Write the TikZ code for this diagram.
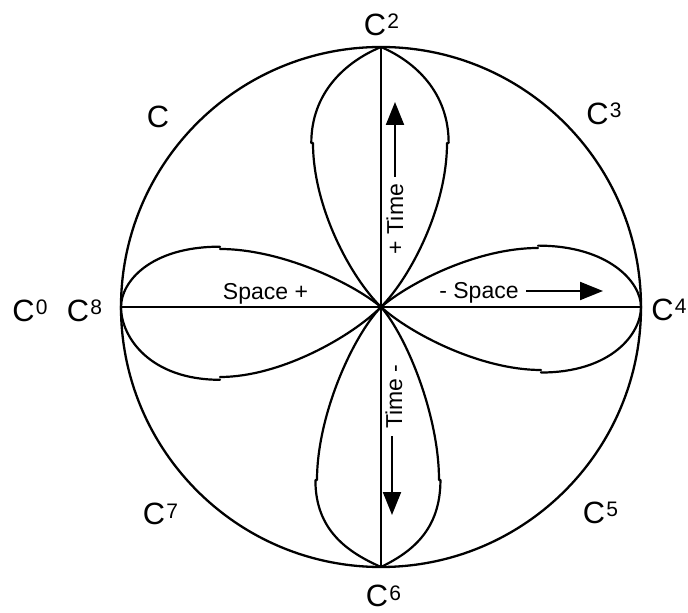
\documentclass[tikz,border=0pt]{standalone}
\usepackage{fontspec}
\setmainfont{Liberation Sans}
\usetikzlibrary{arrows.meta}
\newcommand{\cpow}[1]{C\kern0.6pt\raisebox{3.3pt}{\fontsize{10.5}{12}\selectfont #1}}
\tikzset{
  ring/.style={line width=1.15pt},
  axisline/.style={line width=1.05pt},
  lobe/.style={line width=1.1pt, line cap=round},
  clabel/.style={inner sep=0pt, font=\fontsize{15.4}{18}\selectfont},
  dirlabel/.style={inner sep=3.5pt, anchor=base, font=\fontsize{11.5}{13}\selectfont},
  dirarrow/.style={line width=1pt, -{Triangle[length=11.5pt,width=9pt]}}
}

\begin{document}
\begin{tikzpicture}[x=0.5pt, y=0.5pt]
\useasboundingbox (-381,-306) rectangle (307,307);

% circle and axes
\draw[ring] (0,0) circle[radius=130pt];
\coordinate (top) at (0,260);
\coordinate (bottom) at (0,-260);
\coordinate (left) at (-260,0);
\coordinate (right) at (260,0);
\draw[axisline] (top) -- (bottom);
\draw[axisline] (left) -- (right);

% vertical lobes
\foreach \r/\w/\d in {0/66/164, 0/-68/164, 180/64/173, 180/-58/173}
  \draw[lobe, rotate=\r] (0,0) .. controls ({0.45*\w},30) and (\w,{\d-64}) .. (\w,\d)
    ({1.025*\w},\d) .. controls ({1.025*\w},{\d+50}) and ({0.53*\w},245) .. (0,260);

% horizontal lobes
\foreach \r/\w/\d in {90/58/161, 90/-70/161, -90/63/160, -90/-59/157}
  \draw[lobe, rotate=\r] (0,0) .. controls ({0.43*\w},30) and (\w,{\d-60}) .. (\w,\d)
    ({1.04*\w},\d) .. controls ({1.04*\w},{\d+70}) and ({0.43*\w},260) .. (0,260);

% labels round the circle
\node[clabel] (c0) at (-351,-4) {\cpow{0}};
\node[clabel] (c1) at (-223,190) {C};
\node[clabel] (c2) at (0.5,282) {\cpow{2}};
\node[clabel] (c3) at (223,193) {\cpow{3}};
\node[clabel] (c4) at (288,-3) {\cpow{4}};
\node[clabel] (c5) at (219.5,-205.5) {\cpow{5}};
\node[clabel] (c6) at (2.5,-289) {\cpow{6}};
\node[clabel] (c7) at (-220.5,-207) {\cpow{7}};
\node[clabel] (c8) at (-296.5,-4) {\cpow{8}};

% space and time
\node[dirlabel] (spaceplus) at (-115.5,7) {Space +};
\node[dirlabel] (spaceminus) at (98,8) {- Space};
\coordinate (spacetip) at (222,16);
\draw[dirarrow] (spaceminus.east |- spacetip) -- (spacetip);

\node[dirlabel, rotate=90] (plustime) at (22,88) {+ Time};
\coordinate (timeup) at (14,205);
\draw[dirarrow] (plustime.east -| timeup) -- (timeup);

\node[dirlabel, rotate=90] (timeminus) at (21,-89.5) {Time -};
\coordinate (timedown) at (11,-208);
\draw[dirarrow] (timeminus.west -| timedown) -- (timedown);
\end{tikzpicture}
\end{document}
